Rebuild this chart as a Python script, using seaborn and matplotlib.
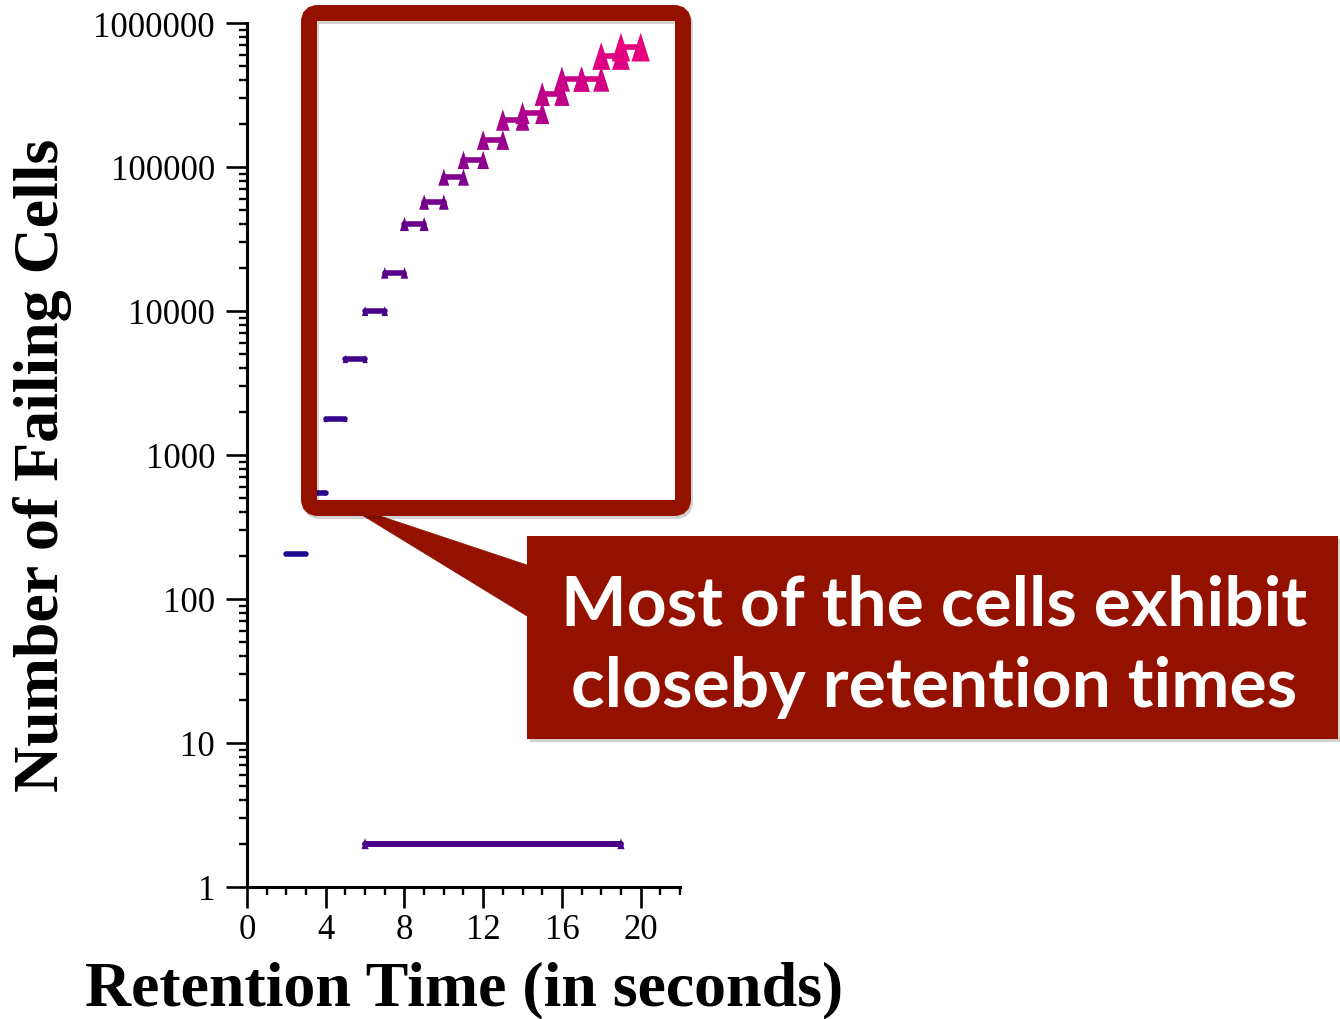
import numpy as np
import pandas as pd
import matplotlib
matplotlib.use("Agg")
import matplotlib.pyplot as plt
import seaborn as sns
from matplotlib.colors import LinearSegmentedColormap
from matplotlib.patches import FancyBboxPatch, Rectangle, Polygon
from matplotlib.transforms import Affine2D
from matplotlib.path import Path
from matplotlib.ticker import MultipleLocator, LogLocator, FixedLocator, FixedFormatter, NullFormatter

# ---------------- data ----------------
bin_start = [2, 3, 4, 5, 6, 7, 8, 9, 10, 11, 12, 13, 14, 15, 16, 17, 18, 19]
bin_end = [3, 4, 5, 6, 7, 8, 9, 10, 11, 12, 13, 14, 15, 16, 17, 18, 19, 20]
failing_cells = [205, 545, 1780, 4640, 10000, 18400, 40200, 57100, 85000,
                 112000, 154000, 212000, 237000, 321000, 408000, 408000,
                 590000, 680000]
outlier_start = [6]
outlier_end = [19]
outlier_cells = [2]

x_ticks = [0, 4, 8, 12, 16, 20]
y_ticks = [1, 10, 100, 1000, 10000, 100000, 1000000]
y_tick_labels = ["1", "10", "100", "1000", "10000", "100000", "1000000"]
x_label = "Retention Time (in seconds)"
y_label = "Number of Failing Cells"
callout_lines = ["Most of the cells exhibit", "closeby retention times"]

# ---------------- style ----------------
sns.set_style("ticks")
plt.rcParams["font.family"] = ["Liberation Serif", "DejaVu Serif"]

W, H, DPI = 1340, 1020, 100
fig = plt.figure(figsize=(W / DPI, H / DPI), dpi=DPI)
px = Affine2D().scale(1 / DPI, -1 / DPI).translate(0, H / DPI) + fig.dpi_scale_trans

ax = fig.add_axes([247 / W, (H - 888) / H, 433 / W, 864 / H])
ax.set_yscale("log")

cmap = LinearSegmentedColormap.from_list(
    "retention",
    [(0.0, "#1c0a8c"), (4 / 17, "#4b0087"), (8 / 17, "#80008e"),
     (12 / 17, "#b3008c"), (1.0, "#e8007f")])
hue_norm = (2, 19)

def segments(starts, ends, cells, offset=0):
    rows = []
    for i, (s, e, c) in enumerate(zip(starts, ends, cells)):
        rows.append(dict(seg=i + offset, t=s, cells=c, start=s))
        rows.append(dict(seg=i + offset, t=e, cells=c, start=s))
    return pd.DataFrame(rows)

main_df = segments(bin_start, bin_end, failing_cells)
out_df = segments(outlier_start, outlier_end, outlier_cells, offset=100)

tri = Path([(0, 1), (-0.64, -1), (0.64, -1), (0, 1)], closed=True)

def marker_area(c):
    h = max(1.0 * c ** 0.25, 3.0)  # marker height in pixels
    return (0.72 * h) ** 2

# outlier (long span)
sns.lineplot(data=out_df, x="t", y="cells", hue="start", units="seg",
             estimator=None, palette=cmap, hue_norm=hue_norm, sort=False,
             linewidth=4.3, legend=False, ax=ax, solid_capstyle="round")
sns.scatterplot(data=out_df, x="t", y="cells", hue="start", palette=cmap,
                hue_norm=hue_norm, marker=tri, s=(0.72 * 11) ** 2,
                linewidth=0, edgecolor="none", legend=False, ax=ax)

# main bins
sns.lineplot(data=main_df, x="t", y="cells", hue="start", units="seg",
             estimator=None, palette=cmap, hue_norm=hue_norm, sort=False,
             linewidth=4.0, legend=False, ax=ax, solid_capstyle="round")
sns.scatterplot(data=main_df, x="t", y="cells", hue="start", palette=cmap,
                hue_norm=hue_norm, size="cells",
                sizes={c: marker_area(c) for c in failing_cells},
                marker=tri, linewidth=0, edgecolor="none", legend=False, ax=ax)

ax.set_xlim(0, 22)
ax.set_ylim(1, 1e6)

for side in ("top", "right"):
    ax.spines[side].set_visible(False)
for side in ("left", "bottom"):
    ax.spines[side].set_linewidth(2.2)
    ax.spines[side].set_color("black")

ax.xaxis.set_major_locator(FixedLocator(x_ticks))
ax.xaxis.set_minor_locator(MultipleLocator(1))
ax.yaxis.set_major_locator(FixedLocator(y_ticks))
ax.yaxis.set_major_formatter(FixedFormatter(y_tick_labels))
ax.yaxis.set_minor_locator(LogLocator(base=10, subs=np.arange(2, 10), numticks=20))
ax.yaxis.set_minor_formatter(NullFormatter())

ax.tick_params(axis="both", which="major", direction="out", length=15,
               width=1.9, color="black", labelsize=25, labelcolor="black")
ax.tick_params(axis="both", which="minor", direction="out", length=6,
               width=1.7, color="black")
ax.tick_params(axis="y", which="major", pad=8)
ax.tick_params(axis="x", which="major", pad=4)

ax.set_xlabel(x_label, fontsize=46, fontweight="bold", color="black")
ax.set_ylabel(y_label, fontsize=46, fontweight="bold", color="black")
ax.xaxis.label.set_va("center")
ax.yaxis.label.set_va("center")
ax.xaxis.set_label_coords((464 - 247) / 433, (888 - 990) / 864)
ax.yaxis.set_label_coords((42 - 247) / 433, (888 - 465) / 864)

# ---------------- callout annotation ----------------
red = "#941100"
shadow = dict(facecolor="none", edgecolor="#000000", alpha=0.18)
fig.patches.append(FancyBboxPatch((311, 17), 374, 495,
                                  boxstyle="round,pad=0,rounding_size=9",
                                  linewidth=11.5, transform=px, zorder=2.5, **shadow))
fig.patches.append(FancyBboxPatch((309, 14), 374, 495,
                                  boxstyle="round,pad=0,rounding_size=9",
                                  facecolor="none", edgecolor=red,
                                  linewidth=11.5, transform=px, zorder=3))
fig.patches.append(Rectangle((530, 540), 811, 203, facecolor="#000000",
                             alpha=0.18, edgecolor="none", transform=px, zorder=1.5))
fig.patches.append(Polygon([(344, 505), (527, 566), (527, 617)], closed=True,
                           facecolor=red, edgecolor=red, linewidth=0.5,
                           transform=px, zorder=2))
fig.patches.append(Rectangle((527, 537), 811, 203, facecolor=red,
                             edgecolor="none", transform=px, zorder=2))
for line, base in zip(callout_lines, (625, 707)):
    fig.text(934, base, line, transform=px, ha="center", va="baseline",
             fontsize=50, fontweight="bold", color="white",
             family=["Lato", "DejaVu Sans"], zorder=4)

fig.savefig("out.png", dpi=DPI, facecolor="white")
